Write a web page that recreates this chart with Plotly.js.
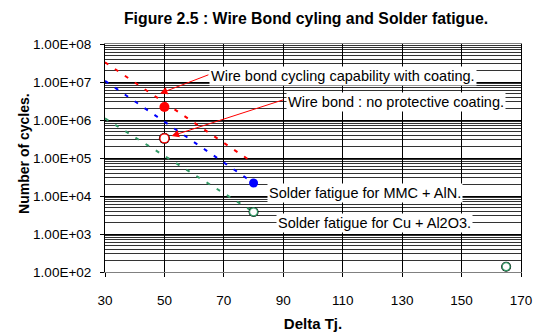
<!DOCTYPE html>
<html><head><meta charset="utf-8">
<script src="https://cdn.plot.ly/plotly-3.0.1.min.js"></script>
<style>html,body{margin:0;padding:0;background:#fff}#chart{width:535px;height:333px}</style>
</head><body><div id="chart"></div>
<script>
// Dashed trend lines (Delta Tj vs cycles)
const redLineX = [30, 80];
const redLineY = [3.3e7, 7.4e4];
const blueLineX = [30, 80];
const blueLineY = [1.07e7, 2.2e4];
const greenLineX = [30, 80];
const greenLineY = [1.1e6, 3.8e3];
// Marker points
const coatedX = [50];          const coatedY = [2.2e6];
const uncoatedX = [50];        const uncoatedY = [3.3e5];
const mmcX = [80];             const mmcY = [2.2e4];
const cuX = [80, 165];         const cuY = [3.8e3, 1.38e2];
// Axis ticks
const xTicks = [30, 50, 70, 90, 110, 130, 150, 170];
const yTicks = [1e2, 1e3, 1e4, 1e5, 1e6, 1e7, 1e8];
const yTickText = ['1.00E+02','1.00E+03','1.00E+04','1.00E+05','1.00E+06','1.00E+07','1.00E+08'];
// Labels
const labels = [
  {text: 'Wire bond cycling capability with coating.', x: 110, y: 1.44e7},
  {text: 'Wire bond : no protective coating.', x: 127.8, y: 2.9e6},
  {text: 'Solder fatigue for MMC + AlN.', x: 117.4, y: 1.17e4},
  {text: 'Solder fatigue for Cu + Al2O3.', x: 120.8, y: 1.9e3}
];
const arrows = [
  {x: 48.5, y: 5e6, ax: 65.3, ay: 1.6e7},
  {x: 52.4, y: 3.8e5, ax: 90.5, ay: 3.5e6}
];

const F = '"Liberation Sans", Arial, sans-serif';
const dashStyle = '4px,8px';
const traces = [
  {x: redLineX, y: redLineY, mode: 'lines', line: {color: '#ff0000', width: 2, dash: dashStyle}},
  {x: blueLineX, y: blueLineY, mode: 'lines', line: {color: '#0000ff', width: 2, dash: dashStyle}},
  {x: greenLineX, y: greenLineY, mode: 'lines', line: {color: '#339966', width: 2, dash: dashStyle}},
  {x: coatedX, y: coatedY, mode: 'markers', marker: {color: '#ff0000', size: 10, line: {width: 0}}},
  {x: uncoatedX, y: uncoatedY, mode: 'markers', marker: {color: '#000', size: 11, line: {width: 0}}},
  {x: uncoatedX, y: uncoatedY, mode: 'markers', marker: {color: '#fff', size: 9, line: {color: '#ff0000', width: 1.2}}},
  {x: mmcX, y: mmcY, mode: 'markers', marker: {color: '#0000ff', size: 9, line: {width: 0}}},
  {x: cuX, y: cuY, mode: 'markers', marker: {color: '#000', size: 10, line: {width: 0}}},
  {x: cuX, y: cuY, mode: 'markers', marker: {color: '#fff', size: 8, line: {color: '#339966', width: 1.2}}}
];

const annotations = labels.map(l => ({
  x: l.x, y: Math.log10(l.y), xref: 'x', yref: 'y', text: l.text, showarrow: false,
  bgcolor: '#fff', borderpad: 1, font: {family: F, size: 14.5, color: '#000'}
})).concat(arrows.map(a => ({
  x: a.x, y: Math.log10(a.y), ax: a.ax, ay: Math.log10(a.ay), xref: 'x', yref: 'y', axref: 'x', ayref: 'y',
  text: '', showarrow: true, arrowhead: 2, arrowsize: 1.5, arrowwidth: 1, arrowcolor: '#ff0000', standoff: 0
}))).concat([{
  x: -0.219, y: 0.522, xref: 'paper', yref: 'paper', textangle: -90, showarrow: false,
  text: '<b>Number of cycles.</b>', font: {family: F, size: 14, color: '#000'}
}]);

const layout = {
  width: 535, height: 333,
  margin: {l: 105, r: 14, t: 44, b: 61},
  paper_bgcolor: '#fff', plot_bgcolor: '#fff',
  showlegend: false,
  title: {text: '<b>Figure 2.5 : Wire Bond cyling and Solder fatigue.</b>', x: 0.572, xref: 'container', xanchor: 'center',
          y: 0.945, yref: 'container', yanchor: 'middle', font: {family: F, size: 15.8, color: '#000'}},
  xaxis: {range: [30, 170], tickvals: xTicks, ticktext: xTicks.map(String),
          showgrid: true, gridcolor: '#000', gridwidth: 1, zeroline: false,
          showline: true, linecolor: '#808080', mirror: true, linewidth: 1,
          ticks: 'outside', ticklen: 4, tickcolor: '#000', ticklabelstandoff: 12,
          tickfont: {family: F, size: 13.5, color: '#000'},
          title: {text: '<b>Delta Tj.</b>', font: {family: F, size: 15, color: '#000'}, standoff: 11}},
  yaxis: {type: 'log', range: [2, 8], tickvals: yTicks, ticktext: yTickText,
          showgrid: true, gridcolor: '#000', gridwidth: 1, zeroline: false,
          showline: true, linecolor: '#000', mirror: true, linewidth: 1,
          ticks: 'outside', ticklen: 4, tickcolor: '#000', ticklabelstandoff: 6,
          tickfont: {family: F, size: 13.5, color: '#000'},
          minor: {dtick: 'D1', showgrid: true, gridcolor: '#333', gridwidth: 1, ticks: ''}},
  annotations: annotations
};
Plotly.newPlot('chart', traces, layout, {displayModeBar: false, staticPlot: true});
</script></body></html>
